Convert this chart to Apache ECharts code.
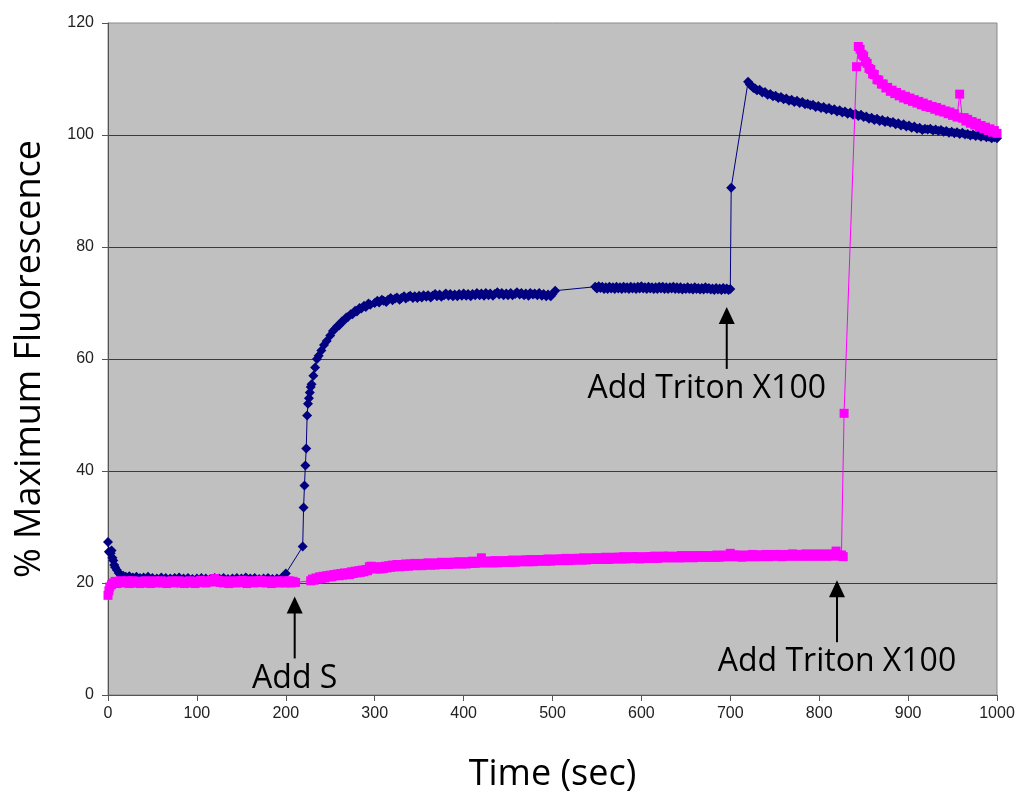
<!DOCTYPE html>
<html>
<head>
<meta charset="utf-8">
<script src="https://cdn.jsdelivr.net/npm/echarts@6/dist/echarts.min.js"></script>
<style>
  html, body { margin: 0; padding: 0; background: #ffffff; }
  #chart { width: 1018px; height: 798px; }
</style>
</head>
<body>
<div id="chart"></div>
<script>
// Axis ranges and tick spacing
const timeTicks = [0, 100, 200, 300, 400, 500, 600, 700, 800, 900, 1000];
const fluorTicks = [0, 20, 40, 60, 80, 100, 120];

// Navy trace: [time (sec), % maximum fluorescence]
const navyBaseline = [[0,27.3],[1,25.6],[3,25.3],[4,25.8],[5,24.5],[6,24],[7,23.2],[8,22.8],[10,22.3],[12,21.8],[14,21.5],[17,21.3],[20,21.1],[24,21.2],[28,21],[32,21.1],[36,20.9],[40,21],[45,21.1],[50,20.9],[55,20.8],[60,21],[65,20.9],[70,20.8],[75,20.9],[80,21],[85,20.8],[90,20.9],[95,20.7],[100,20.8],[105,20.9],[110,20.8],[115,20.7],[120,20.9],[125,20.8],[130,20.9],[135,20.7],[140,20.8],[145,20.9],[150,20.8],[155,21],[160,20.8],[165,20.9],[170,20.7],[175,20.8],[180,20.9],[185,20.7],[190,20.8],[195,20.9],[200,21.7]];
const navyRelease = [[219,26.5],[220,33.5],[221,37.4],[222,41],[223,44],[224,49.9],[225,52],[226,53],[227,54],[228,55],[229,55.5],[231,57],[233,58.5],[235,60],[237,60.6],[240,61.5],[243,62.5],[246,63.2],[250,64.2],[253,65],[255,65.3],[258,65.9],[260,66],[263,66.7],[265,66.8],[268,67.4],[270,67.5],[273,68],[275,68],[278,68.6],[280,68.5],[283,69.1],[285,69],[288,69.5],[290,69.3],[293,69.9],[295,69.7]];
const navyPlateau = [[300,70],[303,70.4],[305,70.1],[308,70.6],[310,70.4],[313,70.2],[315,70.6],[318,70.9],[320,70.5],[323,70.8],[325,71],[328,70.6],[330,70.9],[333,71.2],[335,70.8],[338,71.1],[340,71.3],[343,70.9],[345,71.2],[348,70.9],[350,71.3],[353,71],[355,71.4],[358,71.1],[360,71.4],[363,71],[365,71.3],[368,71.6],[370,71.2],[373,71.5],[375,71.1],[378,71.4],[380,71.7],[383,71.3],[385,71.6],[388,71.2],[390,71.5],[393,71.2],[395,71.6],[398,71.3],[400,71.7],[403,71.3],[405,71.6],[408,71.2],[410,71.6],[413,71.4],[415,71.8],[418,71.4],[420,71.7],[423,71.3],[425,71.8],[428,71.4],[430,71.7],[433,71.3],[435,71.6],[438,71.9],[440,71.5],[443,71.8],[445,71.4],[448,71.7],[450,71.4],[453,71.8],[455,71.4],[458,71.6],[460,71.9],[463,71.5],[465,71.8],[468,71.4],[470,71.7],[473,71.3],[475,71.8],[478,71.5],[480,71.7],[483,71.4],[485,71.8],[488,71.3],[490,71.6],[493,71.2],[495,71.5],[498,71.2],[500,71.6],[503,72.2]];
const navyPlateau2 = [[548,72.9],[550,72.6],[552,73],[554,72.7],[556,72.9],[558,72.5],[560,72.8],[562,72.5],[564,72.9],[566,72.6],[568,72.8],[570,72.5],[572,72.9],[574,72.6],[576,72.8],[578,72.5],[580,72.9],[582,72.6],[584,72.8],[586,72.5],[588,72.9],[590,72.6],[592,72.8],[594,72.5],[596,72.9],[598,72.6],[600,73],[602,72.6],[604,72.8],[606,72.5],[608,72.9],[610,72.6],[612,72.8],[614,72.5],[616,72.8],[618,72.5],[620,72.9],[622,72.6],[624,72.9],[626,72.5],[628,72.8],[630,72.5],[632,72.8],[634,72.6],[636,72.9],[638,72.5],[640,72.8],[642,72.5],[644,72.8],[646,72.4],[648,72.7],[650,72.5],[652,72.8],[654,72.5],[656,72.7],[658,72.4],[660,72.8],[662,72.5],[664,72.7],[666,72.4],[668,72.7],[670,72.4],[672,72.8],[674,72.5],[676,72.7],[678,72.4],[680,72.6],[682,72.3],[684,72.7],[686,72.4],[688,72.6],[690,72.3],[692,72.7],[694,72.4],[696,72.6],[698,72.3],[700,72.5]];
const navyLysis = [[701,90.6],[720,109.5],[722,109],[724,108.8],[726,108.4],[728,108.3],[730,108],[733,108.1],[736,107.6],[739,107.7],[742,107.2],[745,107.3],[748,106.9],[751,107],[754,106.6],[757,106.8],[760,106.4],[763,106.5],[766,106.1],[769,106.3],[772,105.9],[775,106.1],[778,105.7],[781,105.9],[784,105.5],[787,105.6],[790,105.3],[793,105.4],[796,105],[799,105.2],[802,104.8],[805,105],[808,104.6],[811,104.8],[814,104.4],[817,104.6],[820,104.2],[823,104.4],[826,104],[829,104.2],[832,103.8],[835,104],[838,103.6],[841,103.8],[844,103.4],[847,103.6],[850,103.2],[853,103.3],[856,102.9],[859,103.1],[862,102.7],[865,102.9],[868,102.5],[871,102.7],[874,102.3],[877,102.5],[880,102.2],[883,102.3],[886,101.9],[889,102.1],[892,101.7],[895,101.9],[898,101.5],[901,101.7],[904,101.3],[907,101.5],[910,101.1],[913,101.3],[916,100.9],[919,101.1],[922,101],[925,101.1],[928,100.8],[931,101],[934,100.7],[937,100.9],[940,100.6],[943,100.7],[946,100.4],[949,100.6],[952,100.3],[955,100.5],[958,100.2],[961,100.4],[964,100.1],[967,100.2],[970,99.9],[973,100.1],[976,99.8],[979,100],[982,99.7],[985,99.9],[988,99.6],[991,99.7],[994,99.4],[997,99.6],[1000,99.4]];

// Magenta trace: [time (sec), % maximum fluorescence]
const magentaBaseline = [[0,17.8],[1,18.6],[2,19.3],[4,19.7],[6,20],[8,20.3],[10,19.9],[12,20.2],[14,20.4],[16,20],[18,20.3],[20,20.1],[22,20.4],[24,19.9],[26,20.2],[28,20.4],[30,20],[32,20.3],[34,20.1],[36,19.9],[38,20.3],[40,20.1],[42,20.4],[44,20],[46,20.3],[48,19.9],[50,20.2],[52,20.4],[54,20],[56,20.3],[58,20.1],[60,20.4],[62,20],[64,20.2],[66,19.9],[68,20.3],[70,20.1],[72,20.4],[74,20],[76,20.3],[78,20.1],[80,20.4],[82,20],[84,20.2],[86,19.9],[88,20.3],[90,20.1],[92,20.4],[94,20],[96,20.2],[98,19.9],[100,20.3],[102,20.1],[104,20.5],[106,20.1],[108,20.3],[110,20],[112,20.4],[114,20.2],[116,20.5],[118,20.2],[120,20.8],[122,20.3],[124,20.5],[126,20.1],[128,20.3],[130,20],[132,20.4],[134,20.1],[136,19.9],[138,20.3],[140,20.1],[142,20.4],[144,20],[146,20.3],[148,20.1],[150,20.4],[152,20.5],[154,20.1],[156,19.9],[158,20.3],[160,20.1],[162,20.4],[164,20],[166,20.3],[168,20.1],[170,20.4],[172,20.5],[174,20.1],[176,20.3],[178,20],[180,20.4],[182,20.1],[184,19.9],[186,20.3],[188,20.1],[190,20.4],[192,20],[194,20.3],[196,20.1],[198,20.4],[200,20],[202,20.2],[204,20.4],[206,20],[208,20.3],[211,20.1]];
const magentaDrift = [[228,20.4],[230,20.7],[232,20.5],[234,20.9],[236,20.7],[238,21.1],[240,20.8],[242,21.2],[244,20.9],[246,21.3],[248,21.1],[250,21.4],[252,21.1],[254,21.5],[256,21.3],[258,21.6],[260,21.3],[262,21.7],[264,21.4],[266,21.8],[268,21.5],[270,21.8],[272,21.5],[274,22],[276,21.7],[278,22.1],[280,21.8],[282,22.2],[284,21.9],[286,22.3],[288,22],[290,22.4],[292,22.2],[294,22.9],[296,23],[298,22.6],[300,22.9],[302,22.5],[304,22.8],[306,22.5],[308,22.9],[310,22.6],[312,23],[314,22.7],[316,23.1],[318,22.8],[320,23.2],[322,22.9],[325,23.3],[328,22.9],[330,23.3],[333,23],[335,23.4],[338,23],[340,23.4],[343,23.1],[345,23.5],[348,23.1],[350,23.4],[353,23.1],[355,23.5],[358,23.2],[360,23.6],[363,23.2],[365,23.5],[368,23.2],[370,23.6],[373,23.3],[375,23.7],[378,23.3],[380,23.6],[383,23.3],[385,23.7],[388,23.4],[390,23.7],[393,23.4],[395,23.8],[398,23.4],[400,23.7],[403,23.4],[405,23.8],[408,23.5],[410,23.9],[413,23.5],[415,23.8],[418,23.6],[420,24.5],[423,23.6],[425,23.9],[428,23.6],[430,23.9],[433,23.6],[435,24],[438,23.6],[440,23.9],[443,23.7],[445,24],[448,23.7],[450,24],[453,23.7],[455,24.1],[458,23.7],[460,24],[463,23.8],[465,24.1],[468,23.8],[470,24.1],[473,23.8],[475,24.2],[478,23.8],[480,24.1],[483,23.9],[485,24.2],[488,23.9],[490,24.2],[493,23.9],[495,24.3],[498,23.9],[500,24.2],[503,24],[505,24.3],[508,24],[510,24.3],[513,24],[515,24.4],[518,24],[520,24.3],[523,24.1],[525,24.4],[528,24.1],[530,24.4],[533,24.1],[535,24.5],[538,24.1],[540,24.4],[543,24.2],[545,24.5],[548,24.2],[550,24.5],[553,24.2],[555,24.5],[558,24.2],[560,24.6],[563,24.2],[565,24.5],[568,24.3],[570,24.6],[573,24.3],[575,24.6],[578,24.3],[580,24.7],[583,24.3],[585,24.6],[588,24.4],[590,24.7],[593,24.4],[595,24.7],[598,24.3],[600,24.6],[603,24.4],[605,24.7],[608,24.4],[610,24.7],[613,24.4],[615,24.8],[618,24.4],[620,24.7],[623,24.5],[625,24.8],[628,24.5],[630,24.8],[633,24.5],[635,24.7],[638,24.5],[640,24.8],[643,24.5],[645,24.9],[648,24.5],[650,24.8],[653,24.6],[655,24.9],[658,24.5],[660,24.8],[663,24.6],[665,24.9],[668,24.6],[670,24.9],[673,24.6],[675,24.8],[678,24.6],[680,24.9],[683,24.6],[685,25],[688,24.6],[690,24.9],[693,24.7],[695,25],[698,24.7],[700,25.3],[703,24.7],[705,25],[708,24.7],[710,25],[713,24.6],[715,24.9],[718,24.7],[720,25],[723,24.7],[725,25.1],[728,24.7],[730,25],[733,24.7],[735,25],[738,24.8],[740,25.1],[743,24.7],[745,25],[748,24.8],[750,25.1],[753,24.8],[755,25.1],[758,24.7],[760,25],[763,24.8],[765,25.1],[768,24.8],[770,25.2],[773,24.8],[775,25.1],[778,24.8],[780,25.1],[783,24.8],[785,25.2],[788,24.8],[790,25.1],[793,24.8],[795,25.2],[798,24.8],[800,25.1],[803,24.8],[805,25.2],[808,24.8],[810,25.1],[813,24.8],[815,25.2],[817,24.9],[819,25.7],[821,25],[823,24.8],[825,25],[827,24.7]];
const magentaLysis = [[828,50.3],[842,112.2],[844,115.8],[846,115.3],[848,114.4],[850,114.1],[852,113.1],[854,112.8],[856,111.9],[858,111.7],[860,110.9],[862,110.8],[865,109.9],[867,109.8],[870,109.1],[872,109.1],[875,108.4],[877,108.5],[880,107.8],[882,108],[885,107.4],[887,107.6],[890,107],[892,107.2],[895,106.6],[897,106.9],[900,106.3],[902,106.6],[905,106],[907,106.3],[910,105.7],[912,106],[915,105.4],[917,105.7],[920,105.1],[922,105.4],[925,104.9],[927,105.1],[930,104.6],[932,104.9],[935,104.3],[937,104.6],[940,104.1],[942,104.3],[945,103.8],[947,104.1],[950,103.5],[952,103.8],[955,103.2],[958,107.3],[961,103],[963,103.1],[965,102.5],[967,102.8],[970,102.1],[972,102.4],[975,101.8],[977,102.1],[980,101.4],[982,101.7],[985,101.1],[987,101.4],[990,100.8],[992,101.1],[995,100.5],[997,100.8],[1000,100.3]];

// Event annotations: label and the [time, value] point the arrow tip touches
const eventLabels = ['Add S', 'Add Triton X100', 'Add Triton X100'];
const eventPoints = [[210, 17.6], [696, 69.3], [820, 20.5]];

const navyData = [].concat(navyBaseline, navyRelease, navyPlateau, navyPlateau2, navyLysis);
const magentaData = [].concat(magentaBaseline, magentaDrift, magentaLysis);

const chart = echarts.init(document.getElementById('chart'), null, { renderer: 'canvas' });

const tickFont = 'Arial, "Liberation Sans", sans-serif';
const titleFont = '"Open Sans", "Noto Sans", sans-serif';

chart.setOption({
  animation: false,
  backgroundColor: '#ffffff',
  grid: {
    left: 108, right: 21, top: 23, bottom: 101,
    show: true,
    backgroundColor: '#C0C0C0',
    borderColor: '#8a8a8a',
    borderWidth: 1
  },
  xAxis: {
    type: 'value',
    min: timeTicks[0],
    max: timeTicks[timeTicks.length - 1],
    interval: timeTicks[1] - timeTicks[0],
    name: 'Time (sec)',
    nameLocation: 'middle',
    nameGap: 62,
    nameTextStyle: { fontFamily: titleFont, fontSize: 36, color: '#000' },
    axisLine: { show: true, onZero: false, lineStyle: { color: '#555', width: 1 } },
    axisTick: { show: true, length: 6, lineStyle: { color: '#555' } },
    axisLabel: { fontFamily: tickFont, fontSize: 16, color: '#222', margin: 11, formatter: function (v) { return String(v); } },
    splitLine: { show: false }
  },
  yAxis: {
    type: 'value',
    min: fluorTicks[0],
    max: fluorTicks[fluorTicks.length - 1],
    interval: fluorTicks[1] - fluorTicks[0],
    name: '% Maximum Fluorescence',
    nameLocation: 'middle',
    nameGap: 60,
    nameTextStyle: { fontFamily: titleFont, fontSize: 36, color: '#000' },
    axisLine: { show: true, lineStyle: { color: '#555', width: 1 } },
    axisTick: { show: true, length: 6, lineStyle: { color: '#555' } },
    axisLabel: { fontFamily: tickFont, fontSize: 16, color: '#222', margin: 14 },
    splitLine: { show: true, showMinLine: false, showMaxLine: false, lineStyle: { color: '#3a3a3a', width: 1.2 } }
  },
  series: [
    {
      type: 'line',
      name: 'navy',
      data: navyData,
      symbol: 'diamond',
      symbolSize: 10,
      showAllSymbol: true,
      lineStyle: { color: '#000080', width: 1 },
      itemStyle: { color: '#000080' },
      z: 2
    },
    {
      type: 'line',
      name: 'magenta',
      data: magentaData,
      symbol: 'rect',
      symbolSize: 9,
      showAllSymbol: true,
      lineStyle: { color: '#FF00FF', width: 1 },
      itemStyle: { color: '#FF00FF' },
      z: 3
    }
  ]
});

// Arrows with captions, placed through the chart's coordinate system
const labelShift = [0, -20, 0];
const arrowGraphics = [];
eventPoints.forEach(function (pt, i) {
  const p = chart.convertToPixel({ gridIndex: 0 }, pt);
  const x = p[0], tipY = p[1];
  arrowGraphics.push({
    type: 'line',
    shape: { x1: x, y1: tipY + 14, x2: x, y2: tipY + 62 },
    style: { stroke: '#000', lineWidth: 2 },
    z: 10
  });
  arrowGraphics.push({
    type: 'polygon',
    shape: { points: [[x, tipY], [x - 8, tipY + 17], [x + 8, tipY + 17]] },
    style: { fill: '#000' },
    z: 10
  });
  arrowGraphics.push({
    type: 'text',
    x: x + labelShift[i],
    y: tipY + 82,
    style: {
      text: eventLabels[i],
      fontFamily: titleFont,
      fontSize: 32,
      fill: '#000',
      align: 'center',
      verticalAlign: 'middle'
    },
    z: 10
  });
});
chart.setOption({ graphic: arrowGraphics });
</script>
</body>
</html>
